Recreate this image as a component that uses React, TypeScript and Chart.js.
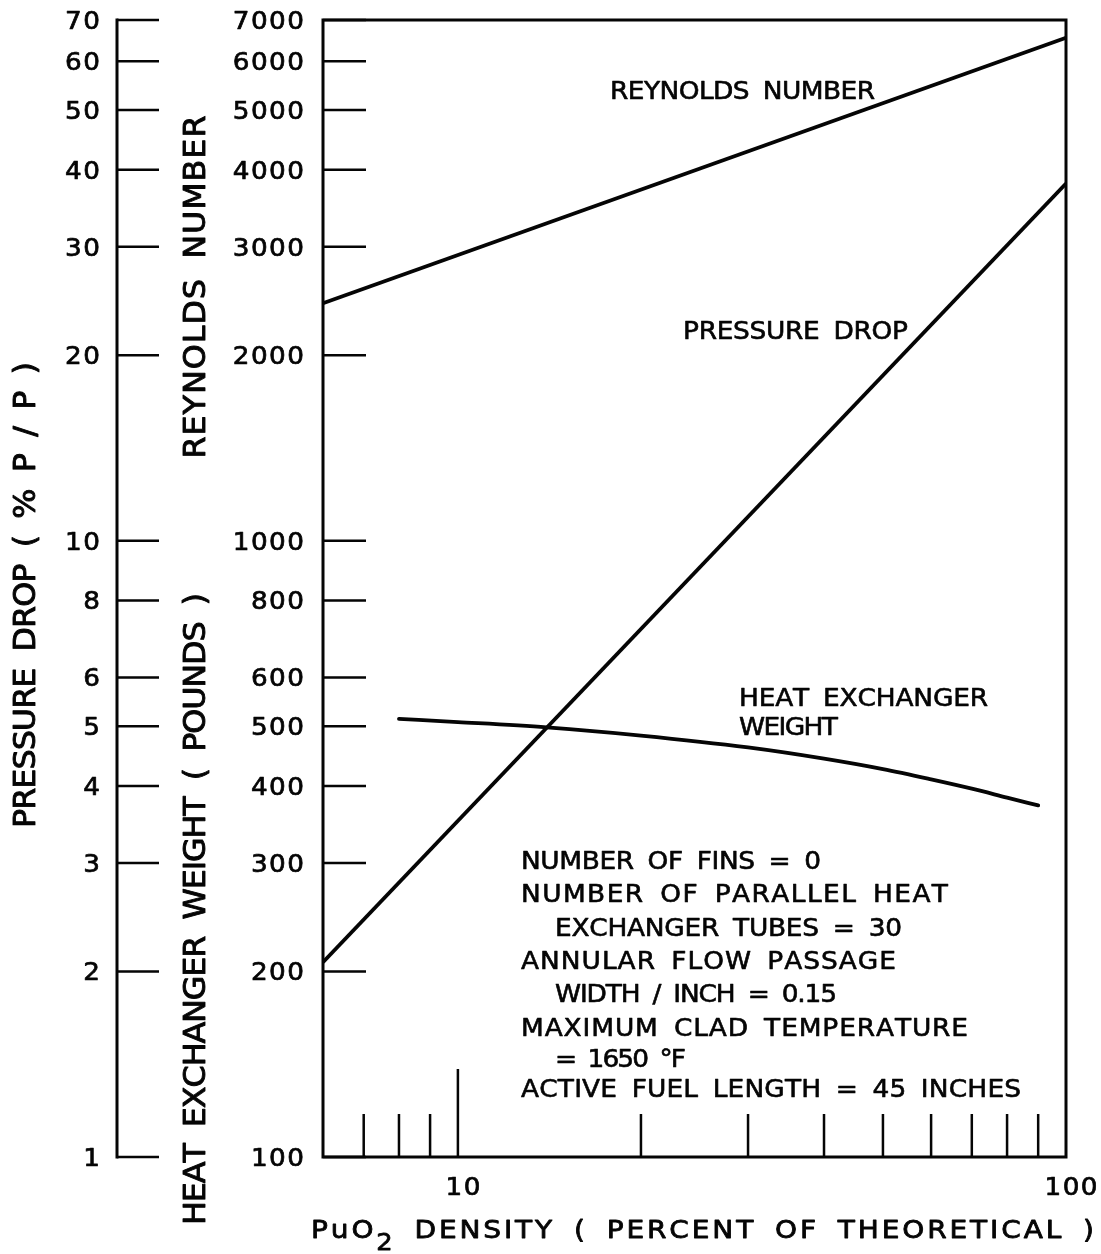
import React, { useEffect, useRef } from 'react';
import { Chart, registerables } from 'chart.js';

Chart.register(...registerables);

// ---------- data ----------
const densityEnds = [6, 100]; // PuO2 density, % of theoretical
const reynoldsNumber = [2430, 6550];
const pressureDrop = [2.07, 38.0]; // % P/P
const hxDensity = [8, 10, 14, 20, 30, 40, 50, 60, 70, 80, 90];
const hxWeight = [514, 508, 498, 483, 462, 443, 426, 410, 396, 383, 372]; // pounds

const leftTicks = [100, 200, 300, 400, 500, 600, 800, 1000, 2000, 3000, 4000, 5000, 6000, 7000];
const pressureTicks = [1, 2, 3, 4, 5, 6, 8, 10, 20, 30, 40, 50, 60, 70];
const xMinorTicks = [7, 8, 9, 20, 30, 40, 50, 60, 70, 80, 90];
const xMajorTicks = [10];
const xTickLabels = [10, 100];

const noteLines = [
  'NUMBER OF FINS = 0',
  'NUMBER OF PARALLEL HEAT',
  'EXCHANGER TUBES = 30',
  'ANNULAR FLOW PASSAGE',
  'WIDTH / INCH = 0.15',
  'MAXIMUM CLAD TEMPERATURE',
  '= 1650 °F',
  'ACTIVE FUEL LENGTH = 45 INCHES',
];

// ---------- drawing helpers ----------
const FAMILY = '"DejaVu Sans", "Liberation Sans", sans-serif';
const INK = '#050505';

type Glyph = { ch: string; font: string; dy: number };

function glyphs(text: string, font: string, dy = 0): Glyph[] {
  return Array.from(text).map((ch) => ({ ch, font, dy }));
}

type DrawOpts = {
  width?: number;
  tracking?: number;
  spaceFactor?: number;
  align?: 'left' | 'right' | 'center';
  sx?: number;
  weight?: number;
};

// draw glyphs one by one (baseline y). If width is given, tracking is computed to fit it.
function drawGlyphs(ctx: CanvasRenderingContext2D, gs: Glyph[], x: number, y: number, opts: DrawOpts) {
  const sx = opts.sx ?? 1;
  const widths = gs.map((g) => {
    ctx.font = g.font;
    const w = ctx.measureText(g.ch).width * sx;
    return g.ch === ' ' ? w * (opts.spaceFactor ?? 1) : w;
  });
  const w0 = widths.reduce((a, b) => a + b, 0);
  const n = gs.length;
  let s = opts.tracking ?? 0;
  if (opts.width != null && n > 1) s = (opts.width - w0) / (n - 1);
  const total = w0 + s * (n - 1);
  let cx = x;
  if (opts.align === 'right') cx = x - total;
  else if (opts.align === 'center') cx = x - total / 2;
  gs.forEach((g, i) => {
    if (g.ch !== ' ') {
      ctx.save();
      ctx.font = g.font;
      ctx.translate(cx, y + g.dy);
      ctx.scale(sx, 1);
      ctx.fillText(g.ch, 0, 0);
      if (opts.weight) {
        ctx.lineWidth = opts.weight;
        ctx.lineJoin = 'round';
        ctx.strokeText(g.ch, 0, 0);
      }
      ctx.restore();
    }
    cx += widths[i] + s;
  });
  return total;
}

const paperPlugin = {
  id: 'paperPlugin',
  beforeDraw(chart: any) {
    const { ctx, width, height } = chart;
    ctx.save();
    ctx.fillStyle = '#fff';
    ctx.fillRect(0, 0, width, height);
    ctx.restore();
  },
  afterDraw(chart: any) {
    const { ctx, chartArea: a, scales } = chart;
    const xs = scales.x;
    const ys = scales.y;
    const yp = scales.yP;
    ctx.save();
    ctx.strokeStyle = INK;
    ctx.fillStyle = INK;
    ctx.textAlign = 'left';
    ctx.textBaseline = 'alphabetic';

    // plot frame
    ctx.lineWidth = 3;
    ctx.strokeRect(a.left, a.top, a.right - a.left, a.bottom - a.top);

    // pressure-drop axis line
    const pAxisX = 117;
    ctx.beginPath();
    ctx.moveTo(pAxisX, yp.getPixelForValue(pressureTicks[pressureTicks.length - 1]) - 1.5);
    ctx.lineTo(pAxisX, yp.getPixelForValue(pressureTicks[0]) + 1.5);
    ctx.stroke();

    // ticks
    ctx.lineWidth = 2.5;
    ctx.beginPath();
    leftTicks.forEach((v) => {
      const py = ys.getPixelForValue(v);
      ctx.moveTo(a.left, py);
      ctx.lineTo(a.left + 43, py);
    });
    pressureTicks.forEach((v) => {
      const py = yp.getPixelForValue(v);
      ctx.moveTo(pAxisX, py);
      ctx.lineTo(pAxisX + 42, py);
    });
    xMinorTicks.forEach((v) => {
      const px = xs.getPixelForValue(v);
      ctx.moveTo(px, a.bottom);
      ctx.lineTo(px, a.bottom - 43);
    });
    xMajorTicks.forEach((v) => {
      const px = xs.getPixelForValue(v);
      ctx.moveTo(px, a.bottom);
      ctx.lineTo(px, a.bottom - 88);
    });
    ctx.stroke();

    // tick labels
    const tickFont = `25px ${FAMILY}`;
    const tickOpts: DrawOpts = { tracking: 1.5, sx: 1.05, weight: 0.7 };
    leftTicks.forEach((v) => {
      const py = ys.getPixelForValue(v);
      drawGlyphs(ctx, glyphs(String(v), tickFont), a.left - 19, py + 9, { ...tickOpts, align: 'right' });
    });
    pressureTicks.forEach((v) => {
      const py = yp.getPixelForValue(v);
      drawGlyphs(ctx, glyphs(String(v), tickFont), 100, py + 9, { ...tickOpts, align: 'right' });
    });
    xTickLabels.forEach((v) => {
      const px = xs.getPixelForValue(v);
      drawGlyphs(ctx, glyphs(String(v), tickFont), px + 5, 1195, { ...tickOpts, align: 'center' });
    });

    // x-axis title with subscript
    const tf = `25px ${FAMILY}`;
    const sf = `23px ${FAMILY}`;
    const title: Glyph[] = [
      ...glyphs('PuO', tf),
      ...glyphs('2', sf, 12),
      ...glyphs(' DENSITY ( PERCENT OF THEORETICAL )', tf),
    ];
    drawGlyphs(ctx, title, 311, 1238, { width: 1094 - 311, spaceFactor: 1.8, sx: 1.12, weight: 0.8 });

    // rotated axis titles
    const rotFont = `30px ${FAMILY}`;
    const rotated = (text: string, cx: number, cy: number, len: number) => {
      ctx.save();
      ctx.translate(cx, cy);
      ctx.rotate(-Math.PI / 2);
      drawGlyphs(ctx, glyphs(text, rotFont), -len / 2, 11, { width: len, spaceFactor: 1.8, sx: 1.06, weight: 0.9 });
      ctx.restore();
    };
    rotated('PRESSURE DROP ( % P / P )', 24, 595, 466);
    rotated('REYNOLDS NUMBER', 194, 287, 343);
    rotated('HEAT EXCHANGER WEIGHT ( POUNDS )', 194, 909, 632);

    // curve labels and notes
    const noteFont = `24px ${FAMILY}`;
    const label = (text: string, left: number, right: number, cy: number) => {
      drawGlyphs(ctx, glyphs(text, noteFont), left, cy + 9, {
        width: right - left,
        spaceFactor: 1.7,
        sx: 1.1,
        weight: 0.6,
      });
    };
    label('REYNOLDS NUMBER', 610, 875, 90);
    label('PRESSURE DROP', 683, 908, 330);
    label('HEAT EXCHANGER', 739, 988, 697);
    label('WEIGHT', 739, 838, 726);

    const lefts = [521, 521, 555, 521, 555, 521, 555, 521];
    const rights = [821, 948, 902, 896, 837, 968, 686, 1021];
    const cys = [860, 893, 927, 960, 993, 1027, 1058, 1088];
    noteLines.forEach((t, i) => label(t, lefts[i], rights[i], cys[i]));

    ctx.restore();
  },
};

export default function App() {
  const ref = useRef<HTMLCanvasElement | null>(null);

  useEffect(() => {
    if (!ref.current) return;
    const lineStyle = {
      borderColor: INK,
      backgroundColor: INK,
      borderWidth: 3.8,
      pointRadius: 0,
      fill: false,
    };
    const chart = new Chart(ref.current, {
      type: 'line',
      data: {
        datasets: [
          {
            ...lineStyle,
            label: 'REYNOLDS NUMBER',
            data: densityEnds.map((x, i) => ({ x, y: reynoldsNumber[i] })),
            yAxisID: 'y',
            tension: 0,
          },
          {
            ...lineStyle,
            label: 'PRESSURE DROP',
            data: densityEnds.map((x, i) => ({ x, y: pressureDrop[i] })),
            yAxisID: 'yP',
            tension: 0,
          },
          {
            ...lineStyle,
            label: 'HEAT EXCHANGER WEIGHT',
            data: hxDensity.map((x, i) => ({ x, y: hxWeight[i] })),
            yAxisID: 'y',
            cubicInterpolationMode: 'monotone',
            borderCapStyle: 'round',
          },
        ] as any,
      },
      options: {
        responsive: false,
        animation: false,
        devicePixelRatio: 1,
        events: [],
        layout: { autoPadding: false, padding: { left: 323, top: 20, right: 35, bottom: 97 } },
        plugins: { legend: { display: false }, tooltip: { enabled: false } },
        scales: {
          x: { type: 'logarithmic', min: 6, max: 100, display: false },
          y: { type: 'logarithmic', min: 100, max: 7000, display: false, position: 'left' },
          yP: { type: 'logarithmic', min: 1, max: 70, display: false, position: 'left' },
        },
      } as any,
      plugins: [paperPlugin],
    });
    return () => chart.destroy();
  }, []);

  return (
    <div style={{ position: 'absolute', left: 0, top: 0, width: 1101, height: 1254, background: '#fff' }}>
      <canvas ref={ref} width={1101} height={1254} style={{ display: 'block' }} />
    </div>
  );
}
